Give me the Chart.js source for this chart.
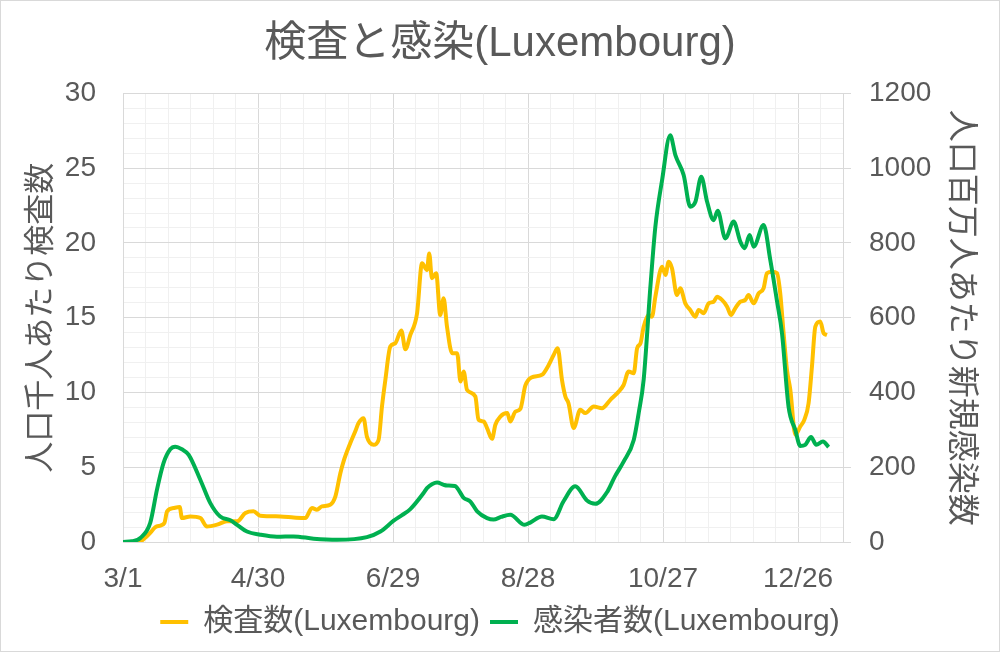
<!DOCTYPE html>
<html>
<head>
<meta charset="utf-8">
<script src="https://cdn.jsdelivr.net/npm/chart.js@4/dist/chart.umd.min.js"></script>
<style>
  body { margin: 0; background: #fff; }
  #chart { display: block; outline: 1px solid #d9d9d9; outline-offset: -1px; }
</style>
</head>
<body>
<canvas id="chart" width="1000" height="652"></canvas>
<script>
// days counted from 3/1
const tickLabels = ['3/1', '4/30', '6/29', '8/28', '10/27', '12/26'];

const testDays = [0, 7, 10, 12, 14.4, 16.6, 18.4, 19.6, 22.5, 25.2, 26.2, 29.9, 34.4, 37.3, 41.8, 46.2, 50.7, 54.4, 58, 61,
  69.9, 75.8, 81, 84, 86.2, 88.4, 92.1, 94.4, 96.6, 98, 101, 103.2, 104.7, 106.9, 108.4, 111.4, 113.6, 115.1, 116.6, 118.8,
  121, 123.7, 125.5, 127.7, 130.7, 132.9, 135.1, 136.1, 137.3, 139.2, 141, 142.5, 144, 146.3, 148.5, 150, 151.4, 152.9, 156.6, 158,
  160.3, 161.8, 164, 165.5, 167.7, 170.8, 172.1, 174.4, 176.6, 178.8, 181.5, 186.2, 189.2, 191.4, 193.2, 195.1, 196.6, 198, 200.3, 203.2,
  205.5, 209.2, 212.9, 216.6, 220.3, 222.5, 224.7, 227, 228.5, 230, 231.4, 233.6, 235.1, 236.6, 239.6, 241.1, 242.5, 244, 246.2, 247.7,
  249.9, 252.1, 254.4, 255.8, 258.1, 260.3, 262.5, 264, 266.2, 268.5, 270.2, 272.1, 274.4, 276.6, 278, 280.3, 282.5, 284.7, 286.2, 288.5,
  290.7, 292.1, 293.6, 295.1, 296.6, 298.8, 301, 302.8, 304.7, 306.2, 307.7, 309.9, 311.4, 312.9];
const testsPerThousand = [0, 0, 0.3, 0.6, 1.0, 1.1, 1.27, 2.05, 2.27, 2.34, 1.6, 1.71, 1.6, 1.04, 1.16, 1.38, 1.38, 1.94, 2.05, 1.76,
  1.71, 1.64, 1.6, 2.27, 2.16, 2.38, 2.49, 3.05, 4.6, 5.38, 6.6, 7.39, 7.95, 8.28, 7.05, 6.5, 6.83, 9.06, 10.84, 13.07,
  13.29, 14.14, 12.89, 13.85, 15.3, 18.64, 18.19, 19.3, 17.64, 17.97, 15.18, 16.3, 14.4, 12.63, 12.63, 10.73, 11.4, 10.17, 9.73, 8.17,
  8.06, 7.62, 6.9, 7.84, 8.39, 8.62, 8.06, 8.72, 8.9, 10.45, 11.0, 11.18, 11.84, 12.51, 12.96, 10.84, 9.73, 9.28, 7.62, 8.84,
  8.62, 9.06, 8.95, 9.51, 10.06, 10.5, 11.4, 11.29, 12.96, 13.29, 14.4, 15.18, 15.07, 16.4, 18.41, 17.86, 18.74, 18.3, 16.52, 16.97,
  15.96, 15.52, 15.07, 15.52, 15.3, 15.96, 16.07, 16.4, 16.19, 15.74, 15.18, 15.63, 16.07, 16.19, 16.52, 15.96, 16.63, 16.97, 17.97, 18.08,
  17.97, 16.63, 13.96, 11.51, 10.17, 7.17, 7.72, 8.17, 9.28, 11.73, 14.4, 14.74, 13.96, 13.85];

const caseDays = [0, 4, 7.7, 12.1, 15.1, 18, 21, 23.2, 26.2, 29.2, 34.4, 38.8, 43.2, 47.7, 50.7, 55.1, 61, 68.4, 75.8, 84.7,
  95.1, 108.4, 114.4, 120.3, 124, 127.7, 133.6, 135.1, 137.5, 139.6, 142.5, 144, 147.5, 151.4, 154.4, 157.4, 161.8, 164.7, 168, 172.1,
  178.5, 181, 186.2, 191.4, 195.8, 201, 206.2, 209.9, 215.3, 218.6, 222.5, 227, 229.2, 231.4, 234.4, 236.6, 239.6, 243.2, 245.5, 249.2,
  252.1, 254.4, 257, 259.6, 262.5, 264.3, 267.7, 271.4, 274.4, 276.3, 278.5, 280.3, 284.7, 287.7, 290.6, 292.9, 295.8, 298.8, 301, 303.2,
  305.8, 308.1, 311.1, 313.6];
const casesPerMillion = [0, 2, 10.7, 51, 140, 211, 248, 255, 248, 233, 166, 104, 68, 58, 46, 28, 19.5, 14, 15, 9,
  6, 13, 28, 57, 72, 88, 131, 144, 155, 159, 153, 151, 150, 118, 108, 82, 64, 60, 67, 73,
  46, 52, 68, 61, 109, 149, 111, 102, 135, 175, 215, 273, 345, 434, 683, 843, 968, 1088, 1035, 981,
  897, 910, 977, 910, 861, 886, 812, 857, 803, 786, 821, 790, 848, 754, 647, 558, 362, 300, 257, 260,
  281, 260, 269, 254];

const FONT = '"Liberation Sans", "Noto Sans CJK JP", sans-serif';
const TEXT = '#595959';

function toPoints(days, vals) {
  return days.map((d, i) => ({ x: d, y: vals[i] }));
}

new Chart(document.getElementById('chart'), {
  type: 'line',
  data: {
    datasets: [
      {
        label: '検査数(Luxembourg)',
        data: toPoints(testDays, testsPerThousand),
        borderColor: '#FFC000',
        backgroundColor: '#FFC000',
        borderWidth: 4,
        pointRadius: 0,
        cubicInterpolationMode: 'monotone',
        yAxisID: 'y',
        order: 1
      },
      {
        label: '感染者数(Luxembourg)',
        data: toPoints(caseDays, casesPerMillion),
        borderColor: '#00B050',
        backgroundColor: '#00B050',
        borderWidth: 4,
        pointRadius: 0,
        cubicInterpolationMode: 'monotone',
        yAxisID: 'y1',
        order: 0
      }
    ]
  },
  options: {
    responsive: false,
    animation: false,
    layout: { padding: { bottom: 5 } },
    plugins: {
      title: {
        display: true,
        text: '検査と感染(Luxembourg)',
        color: TEXT,
        font: { family: FONT, size: 42, weight: 'normal' },
        padding: { top: 19, bottom: 24 }
      },
      legend: {
        position: 'bottom',
        labels: {
          color: TEXT,
          font: { family: FONT, size: 30 },
          boxWidth: 28,
          boxHeight: 4,
          padding: 10,
          sort: (a, b) => a.datasetIndex - b.datasetIndex,
          generateLabels: chart =>
            Chart.defaults.plugins.legend.labels.generateLabels(chart).map(l => ({ ...l, lineWidth: 0 }))
        }
      },
      tooltip: { enabled: false }
    },
    scales: {
      x: {
        type: 'linear',
        min: 0,
        max: 320,
        afterFit: s => { s.height = 55; },
        ticks: {
          stepSize: 10,
          autoSkip: false,
          maxRotation: 0,
          color: TEXT,
          font: { family: FONT, size: 28 },
          padding: 20,
          callback: v => (v % 60 === 0 ? tickLabels[v / 60] : '')
        },
        grid: {
          drawTicks: false,
          color: c => (c.tick && c.tick.value % 60 === 0 ? '#d9d9d9' : '#f0f0f0')
        },
        border: { color: '#d9d9d9' }
      },
      y: {
        position: 'left',
        min: 0,
        max: 30,
        afterFit: s => { s.width = 123; },
        ticks: {
          stepSize: 1,
          autoSkip: false,
          color: TEXT,
          font: { family: FONT, size: 28 },
          padding: 27,
          callback: v => (v % 5 === 0 ? String(v) : '')
        },
        grid: {
          drawTicks: false,
          color: c => (c.tick && c.tick.value % 5 === 0 ? '#d9d9d9' : '#f0f0f0')
        },
        border: { color: '#d9d9d9' },
        title: {
          display: true,
          text: '人口千人あたり検査数',
          color: TEXT,
          font: { family: FONT, size: 31 },
          padding: { top: 23, bottom: 0 }
        }
      },
      y1: {
        position: 'right',
        min: 0,
        max: 1200,
        afterFit: s => { s.width = 157; },
        ticks: {
          stepSize: 200,
          autoSkip: false,
          color: TEXT,
          font: { family: FONT, size: 28 },
          padding: 18,
          callback: v => String(v)
        },
        grid: {
          drawOnChartArea: false,
          tickLength: 8,
          color: '#d9d9d9'
        },
        border: { color: '#d9d9d9' },
        title: {
          display: true,
          text: '人口百万人あたり新規感染数',
          color: TEXT,
          font: { family: FONT, size: 32 },
          padding: { top: 20, bottom: 0 }
        }
      }
    }
  }
});
</script>
</body>
</html>
